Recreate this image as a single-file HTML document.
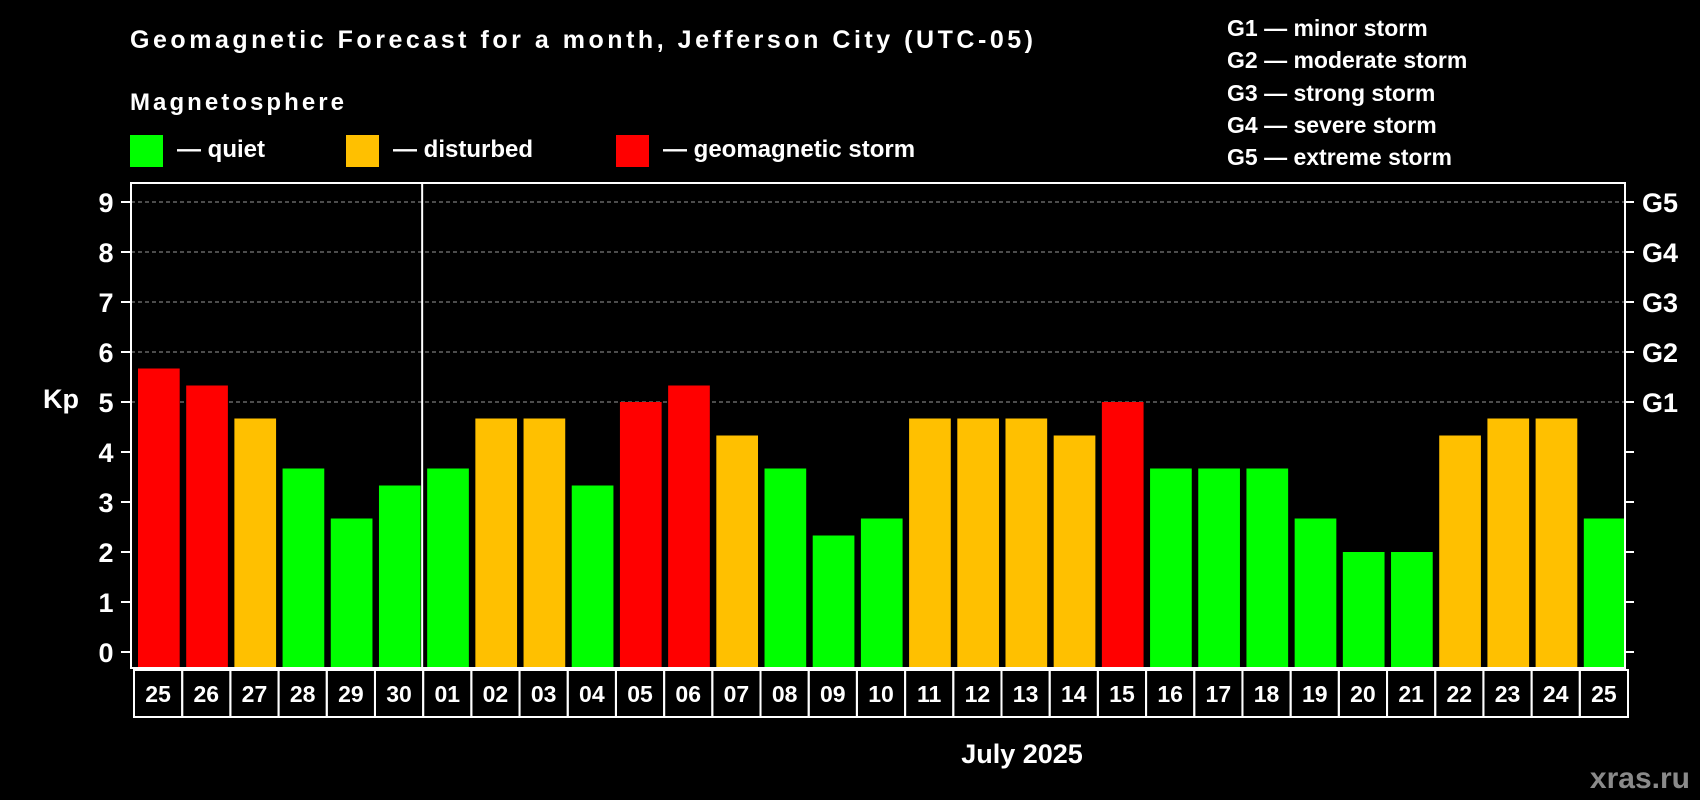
<!DOCTYPE html>
<html><head><meta charset="utf-8"><style>
html,body{margin:0;padding:0;background:#000;}
svg{display:block;font-family:"Liberation Sans",sans-serif;font-weight:bold;}
</style></head><body>
<svg id="chart" width="1700" height="800" viewBox="0 0 1700 800">
<rect width="1700" height="800" fill="#000"/>
<text x="130" y="48" fill="#fff" font-size="25" textLength="903">Geomagnetic Forecast for a month, Jefferson City (UTC-05)</text>
<text x="130" y="110" fill="#fff" font-size="24" textLength="214">Magnetosphere</text>
<g><rect x="130" y="135" width="33" height="32" fill="#00ff00"/><text x="177" y="157" fill="#fff" font-size="24">— quiet</text></g>
<g><rect x="346" y="135" width="33" height="32" fill="#ffc000"/><text x="393" y="157" fill="#fff" font-size="24">— disturbed</text></g>
<g><rect x="616" y="135" width="33" height="32" fill="#ff0000"/><text x="663" y="157" fill="#fff" font-size="24">— geomagnetic storm</text></g>
<g fill="#fff" font-size="23">
<text x="1227" y="36">G1 — minor storm</text>
<text x="1227" y="68">G2 — moderate storm</text>
<text x="1227" y="101">G3 — strong storm</text>
<text x="1227" y="133">G4 — severe storm</text>
<text x="1227" y="165">G5 — extreme storm</text>
</g>
<text x="43" y="408" fill="#fff" font-size="27">Kp</text>
<text x="1022" y="763" fill="#fff" font-size="27" text-anchor="middle">July 2025</text>
<text x="1690" y="788" fill="#8a8a8a" font-size="30" text-anchor="end">xras.ru</text>
<g id="plot"></g>
</svg>
<script>
const categories=["25","26","27","28","29","30","01","02","03","04","05","06","07","08","09","10","11","12","13","14","15","16","17","18","19","20","21","22","23","24","25"];
const kpValues=[5.67,5.33,4.67,3.67,2.67,3.33,3.67,4.67,4.67,3.33,5,5.33,4.33,3.67,2.33,2.67,4.67,4.67,4.67,4.33,5,3.67,3.67,3.67,2.67,2,2,4.33,4.67,4.67,2.67];
const yTicks=[0,1,2,3,4,5,6,7,8,9];
const gLabels=["G1","G2","G3","G4","G5"];
const gLevels=[5,6,7,8,9];
const NS="http://www.w3.org/2000/svg";
const L=131,R=1625,T=183,B=668;
const y=v=>652-v*50;
const step=(R-L)/categories.length;
const x=i=>L+i*step;
const g=document.getElementById('plot');
function mk(tag,attrs){const e=document.createElementNS(NS,tag);for(const k in attrs)e.setAttribute(k,attrs[k]);g.appendChild(e);return e;}
gLevels.forEach(v=>{
 const l=mk('line',{x1:L,x2:R,y1:y(v),y2:y(v),stroke:'#999','stroke-dasharray':'4,3','stroke-width':1});
 
 
});
yTicks.forEach(v=>{
 const t=mk('line',{x1:L-10,x2:L,y1:y(v),y2:y(v),stroke:'#fff','stroke-width':2});
 
 
 const t2=mk('line',{x1:R,x2:R+9,y1:y(v),y2:y(v),stroke:'#fff','stroke-width':2});
 
 
 const tx=mk('text',{x:106,y:y(v)+10,fill:'#fff','font-size':27,'text-anchor':'middle'});
 tx.textContent=v;
 
 
});
gLabels.forEach((s,i)=>{
 const tx=mk('text',{x:1642,y:y(gLevels[i])+10,fill:'#fff','font-size':27});
 tx.textContent=s;
 
 
});
kpValues.forEach((v,i)=>{
 const c=v>=5?'#ff0000':(v>=4?'#ffc000':'#00ff00');
 const r=mk('rect',{x:x(i)+7,y:y(v),width:step-6.5,height:y(0)+16-y(v),fill:c});
 
 
 const bx=mk('rect',{x:x(i)+3,y:B+2,width:step,height:47,fill:'none',stroke:'#fff','stroke-width':2});
 
 
 const tx=mk('text',{x:x(i)+3+step/2,y:B+34,fill:'#fff','font-size':23,'text-anchor':'middle'});
 tx.textContent=categories[i];
 
 
});
const fr=mk('rect',{x:L,y:T,width:R-L,height:B-T,fill:'none',stroke:'#fff','stroke-width':2});


const dv=mk('line',{x1:x(6)+2,x2:x(6)+2,y1:T,y2:B,stroke:'#fff','stroke-width':2});


</script>
</body></html>
